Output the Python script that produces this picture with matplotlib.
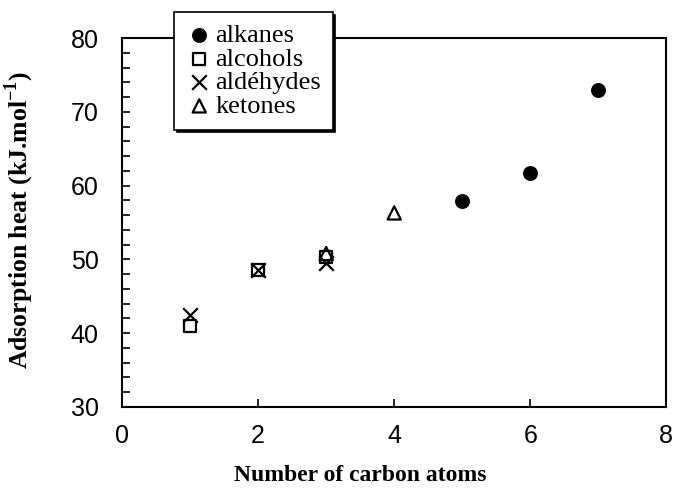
import matplotlib.pyplot as plt
from matplotlib.ticker import MultipleLocator

plt.rcParams['mathtext.fontset'] = 'custom'
plt.rcParams['mathtext.rm'] = 'Liberation Serif'
plt.rcParams['mathtext.bf'] = 'Liberation Serif:bold'

# number of carbon atoms vs adsorption heat (kJ/mol)
alkanes_x = [5, 6, 7]
alkanes_y = [57.9, 61.7, 73.0]
alcohols_x = [1, 2, 3]
alcohols_y = [41.0, 48.6, 50.3]
aldehydes_x = [1, 2, 3]
aldehydes_y = [42.5, 48.6, 49.5]
ketones_x = [3, 4]
ketones_y = [50.8, 56.3]

fig = plt.figure(figsize=(6.75, 4.88), dpi=100)
ax = fig.add_axes([0.181, 0.166, 0.806, 0.756])

ax.scatter(alkanes_x, alkanes_y, marker='o', s=95, color='black', label='alkanes', zorder=3)
ax.scatter(alcohols_x, alcohols_y, marker='s', s=80, facecolor='none', edgecolor='black',
           linewidth=1.6, label='alcohols', zorder=3)
ax.scatter(aldehydes_x, aldehydes_y, marker='x', s=110, color='black', linewidth=1.6,
           label='ald\u00e9hydes', zorder=3)
ax.scatter(ketones_x, ketones_y, marker='^', s=90, facecolor='none', edgecolor='black',
           linewidth=1.6, label='ketones', zorder=3)

ax.set_xlim(0, 8)
ax.set_ylim(30, 80)
ax.xaxis.set_major_locator(MultipleLocator(2))
ax.yaxis.set_major_locator(MultipleLocator(10))
ax.yaxis.set_minor_locator(MultipleLocator(2))
ax.tick_params(direction='in', length=6, width=1.2, labelsize=18)
ax.tick_params(axis='x', pad=12)
ax.tick_params(axis='y', pad=17)
ax.tick_params(axis='y', which='minor', direction='in', length=6, width=1.2)
for lab in ax.get_xticklabels() + ax.get_yticklabels():
    lab.set_family('Liberation Sans')
for sp in ax.spines.values():
    sp.set_linewidth(1.5)

ax.set_xlabel('Number of carbon atoms', fontsize=17, fontweight='bold',
              family='Liberation Serif')
ax.xaxis.set_label_coords(0.4375, -0.158)
ax.set_ylabel('Adsorption heat (kJ.mol$^{\\mathbf{-1}}$)', fontsize=18.5, fontweight='bold',
              family='Liberation Serif')
ax.yaxis.set_label_coords(-0.158, 0.507)

leg = ax.legend(loc='upper left', bbox_to_anchor=(0.0956, 1.0705), frameon=True, fancybox=False,
                shadow={'color': 'black', 'alpha': 1}, edgecolor='black', framealpha=1,
                prop={'family': 'Liberation Serif', 'size': 19}, handletextpad=0.1,
                labelspacing=0.0, borderpad=0.45, handlelength=1.0, borderaxespad=0)
leg.get_frame().set_linewidth(1.2)
leg.set_zorder(5)

fig.savefig('out.png', dpi=100)
